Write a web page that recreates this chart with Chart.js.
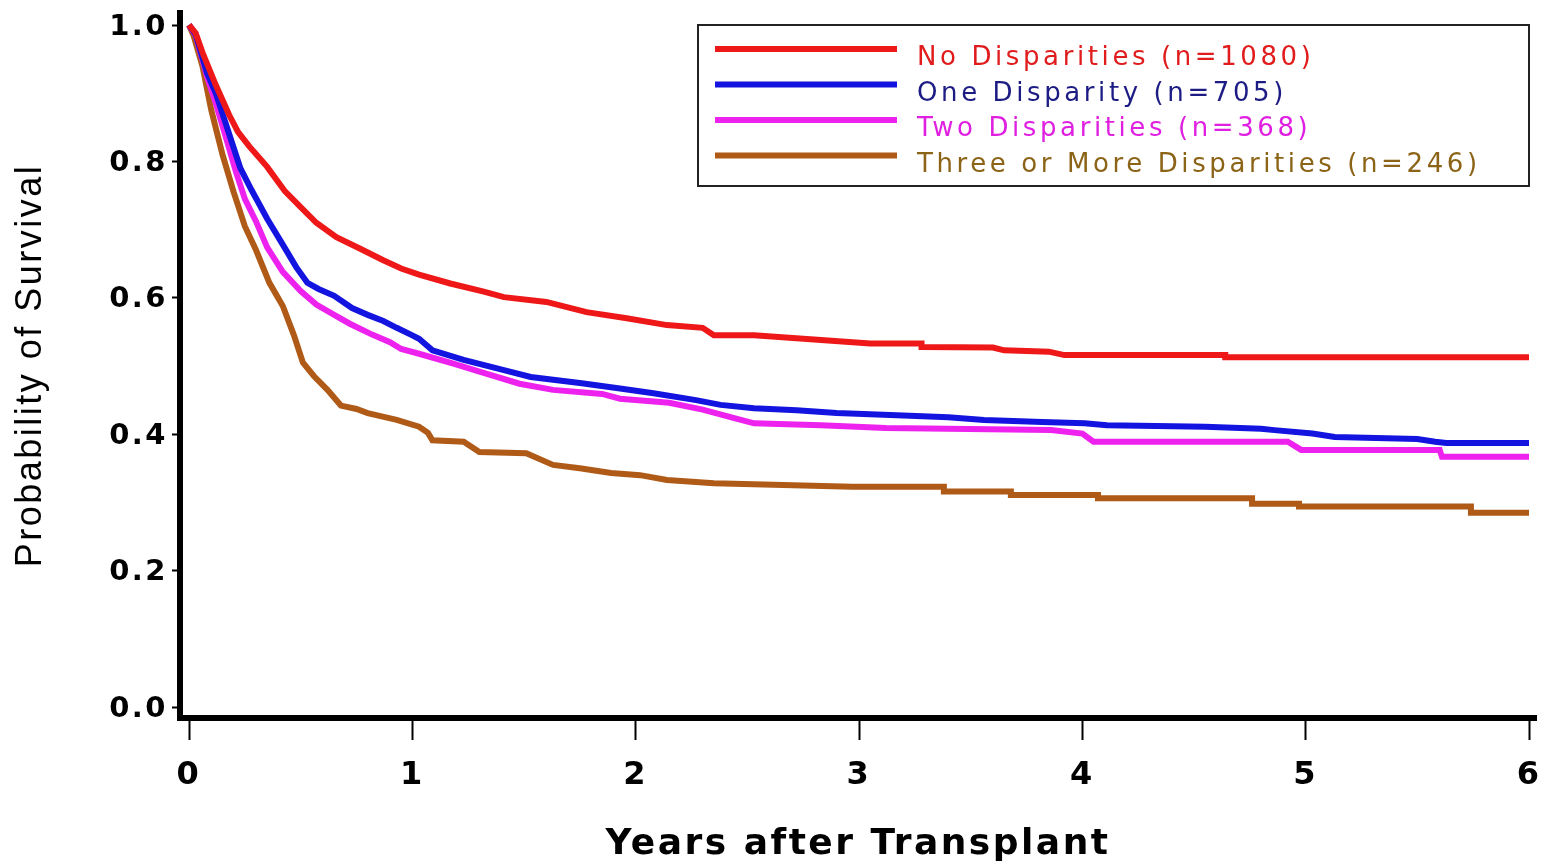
<!DOCTYPE html>
<html>
<head>
<meta charset="utf-8">
<script src="https://cdn.jsdelivr.net/npm/chart.js@4.4.0/dist/chart.umd.min.js"></script>
<style>
html,body{margin:0;padding:0;background:#fff;}
#wrap{width:1544px;height:866px;position:relative;}
</style>
</head>
<body>
<div id="wrap"><canvas id="c" width="1544" height="866"></canvas></div>
<script>
// ---- data ----
const xTicks = [0, 1, 2, 3, 4, 5, 6];
const yTicks = [0.0, 0.2, 0.4, 0.6, 0.8, 1.0];
const xTitle = 'Years after Transplant';
const yTitle = 'Probability of Survival';

const seriesLabels = [
  'No Disparities (n=1080)',
  'One Disparity (n=705)',
  'Two Disparities (n=368)',
  'Three or More Disparities (n=246)'
];

const noDispYears = [0, 0.03, 0.06, 0.12, 0.18, 0.22, 0.27, 0.35, 0.43, 0.50, 0.57, 0.66, 0.76, 0.87, 0.95, 1.03, 1.17, 1.32, 1.41, 1.60, 1.78, 1.96, 2.14, 2.30, 2.35, 2.53, 2.83, 3.05, 3.28, 3.28, 3.60, 3.65, 3.85, 3.92, 4.64, 4.64, 6.0];
const noDispSurv  = [1.0, 0.988, 0.960, 0.912, 0.868, 0.843, 0.822, 0.792, 0.756, 0.733, 0.710, 0.689, 0.673, 0.655, 0.643, 0.634, 0.621, 0.609, 0.601, 0.594, 0.579, 0.570, 0.560, 0.556, 0.545, 0.545, 0.538, 0.533, 0.533, 0.528, 0.527, 0.523, 0.521, 0.516, 0.516, 0.513, 0.513];

const oneDispYears = [0, 0.03, 0.08, 0.12, 0.16, 0.19, 0.23, 0.28, 0.35, 0.42, 0.48, 0.53, 0.58, 0.65, 0.73, 0.80, 0.87, 0.93, 1.00, 1.03, 1.09, 1.23, 1.41, 1.53, 1.75, 1.93, 2.08, 2.27, 2.38, 2.53, 2.72, 2.90, 3.14, 3.40, 3.56, 3.82, 4.01, 4.11, 4.55, 4.80, 4.86, 5.03, 5.13, 5.50, 5.58, 5.63, 6.0];
const oneDispSurv  = [1.0, 0.986, 0.930, 0.900, 0.860, 0.830, 0.790, 0.758, 0.716, 0.678, 0.645, 0.622, 0.613, 0.603, 0.585, 0.575, 0.566, 0.556, 0.545, 0.540, 0.523, 0.509, 0.494, 0.484, 0.475, 0.467, 0.460, 0.450, 0.443, 0.438, 0.435, 0.431, 0.428, 0.425, 0.421, 0.418, 0.416, 0.413, 0.411, 0.408, 0.406, 0.401, 0.396, 0.393, 0.389, 0.387, 0.387];

const twoDispYears = [0, 0.03, 0.08, 0.12, 0.17, 0.21, 0.25, 0.30, 0.35, 0.42, 0.50, 0.57, 0.65, 0.72, 0.82, 0.90, 0.95, 1.03, 1.18, 1.33, 1.48, 1.63, 1.85, 1.93, 2.15, 2.30, 2.45, 2.53, 2.83, 3.12, 3.86, 4.00, 4.05, 4.92, 4.98, 5.60, 5.61, 6.0];
const twoDispSurv  = [1.0, 0.985, 0.925, 0.885, 0.830, 0.785, 0.745, 0.712, 0.674, 0.638, 0.610, 0.590, 0.575, 0.562, 0.546, 0.535, 0.525, 0.518, 0.504, 0.489, 0.474, 0.465, 0.459, 0.452, 0.446, 0.436, 0.423, 0.416, 0.413, 0.409, 0.406, 0.401, 0.389, 0.389, 0.377, 0.377, 0.367, 0.367];

const threeDispYears = [0, 0.02, 0.06, 0.10, 0.15, 0.20, 0.25, 0.30, 0.36, 0.42, 0.47, 0.51, 0.56, 0.62, 0.68, 0.75, 0.80, 0.93, 1.03, 1.07, 1.09, 1.23, 1.30, 1.51, 1.63, 1.75, 1.89, 2.02, 2.14, 2.35, 2.97, 3.38, 3.38, 3.68, 3.68, 4.07, 4.07, 4.76, 4.76, 4.97, 4.97, 5.74, 5.74, 6.0];
const threeDispSurv  = [1.0, 0.985, 0.940, 0.875, 0.810, 0.755, 0.705, 0.670, 0.622, 0.588, 0.545, 0.505, 0.485, 0.465, 0.442, 0.437, 0.431, 0.421, 0.411, 0.402, 0.391, 0.389, 0.374, 0.372, 0.355, 0.350, 0.343, 0.340, 0.333, 0.328, 0.323, 0.323, 0.316, 0.316, 0.311, 0.311, 0.306, 0.306, 0.298, 0.298, 0.294, 0.294, 0.285, 0.285];

const lineColors = ['#ee1818', '#1414e0', '#ee22ee', '#b05a18'];
const textColors = ['#e01c1c', '#1c1c84', '#e020e0', '#8c6418'];

// ---- build ----
function pts(xs, ys) { return xs.map((x, i) => ({x: x, y: ys[i]})); }
const seriesData = [
  pts(noDispYears, noDispSurv),
  pts(oneDispYears, oneDispSurv),
  pts(twoDispYears, twoDispSurv),
  pts(threeDispYears, threeDispSurv)
];

const datasets = seriesData.map((d, i) => ({
  label: seriesLabels[i],
  data: d,
  borderColor: lineColors[i],
  backgroundColor: lineColors[i],
  borderWidth: 6,
  pointRadius: 0,
  tension: 0,
  fill: false,
  order: i
})).reverse();

const spacingPlugin = {
  id: 'spacing',
  beforeDraw(chart) { chart.ctx.letterSpacing = '2.5px'; },
  afterDraw(chart) { chart.ctx.letterSpacing = '0px'; }
};

const boxLegend = {
  id: 'boxLegend',
  afterDraw(chart) {
    const ctx = chart.ctx;
    const a = chart.chartArea;
    const right = a.right - 7, top = a.top + 12, w = 831, h = 161;
    const left = right - w;
    ctx.save();
    ctx.letterSpacing = '3.6px';
    ctx.fillStyle = '#fff';
    ctx.fillRect(left, top, w, h);
    ctx.lineWidth = 2;
    ctx.strokeStyle = '#222';
    ctx.strokeRect(left, top, w, h);
    ctx.font = '26px "DejaVu Sans"';
    ctx.textAlign = 'left';
    ctx.textBaseline = 'alphabetic';
    seriesLabels.forEach((lab, i) => {
      const y = top + 24 + i * 35.5;
      ctx.beginPath();
      ctx.lineWidth = 6;
      ctx.strokeStyle = lineColors[i];
      ctx.moveTo(left + 17, y);
      ctx.lineTo(left + 199, y);
      ctx.stroke();
      ctx.fillStyle = textColors[i];
      ctx.fillText(lab, left + 219, y + 16);
    });
    ctx.restore();
  }
};

new Chart(document.getElementById('c'), {
  type: 'line',
  data: { datasets: datasets },
  options: {
    responsive: false,
    animation: false,
    events: [],
    layout: { padding: { top: 13, right: 8, left: 0, bottom: 0 } },
    plugins: { legend: { display: false }, tooltip: { enabled: false } },
    scales: {
      x: {
        type: 'linear',
        min: -0.0403,
        max: 6.0313,
        afterBuildTicks: s => { s.ticks = xTicks.map(v => ({value: v})); },
        afterFit: s => { s.height = 148; s.paddingLeft = 0; s.paddingRight = 0; },
        border: { display: true, color: '#000', width: 6 },
        grid: { drawOnChartArea: false, drawTicks: true, tickLength: 22, tickColor: '#000', tickWidth: 2 },
        ticks: {
          color: '#000',
          padding: 16,
          maxRotation: 0,
          autoSkip: false,
          font: { family: 'DejaVu Sans', weight: 'bold', size: 32 },
          callback: v => String(v)
        },
        title: {
          display: true,
          text: xTitle,
          color: '#000',
          font: { family: 'DejaVu Sans', weight: 'bold', size: 36 },
          padding: { top: 0, bottom: 0 }
        }
      },
      y: {
        type: 'linear',
        min: -0.0161,
        max: 1.0176,
        afterBuildTicks: s => { s.ticks = yTicks.map(v => ({value: v})); },
        afterFit: s => { s.width = 180; s.paddingTop = 0; s.paddingBottom = 0; },
        border: { display: true, color: '#000', width: 6 },
        grid: { drawOnChartArea: false, drawTicks: true, tickLength: 8, tickColor: '#000', tickWidth: 2 },
        ticks: {
          color: '#000',
          padding: 4,
          labelOffset: 2,
          autoSkip: false,
          font: { family: 'DejaVu Sans', weight: 'bold', size: 29 },
          callback: v => Number(v).toFixed(1)
        },
        title: {
          display: true,
          text: yTitle,
          color: '#000',
          font: { family: 'Liberation Sans', weight: 'normal', size: 36 },
          padding: { top: 9, bottom: 0 }
        }
      }
    }
  },
  plugins: [spacingPlugin, boxLegend]
});
</script>
</body>
</html>
